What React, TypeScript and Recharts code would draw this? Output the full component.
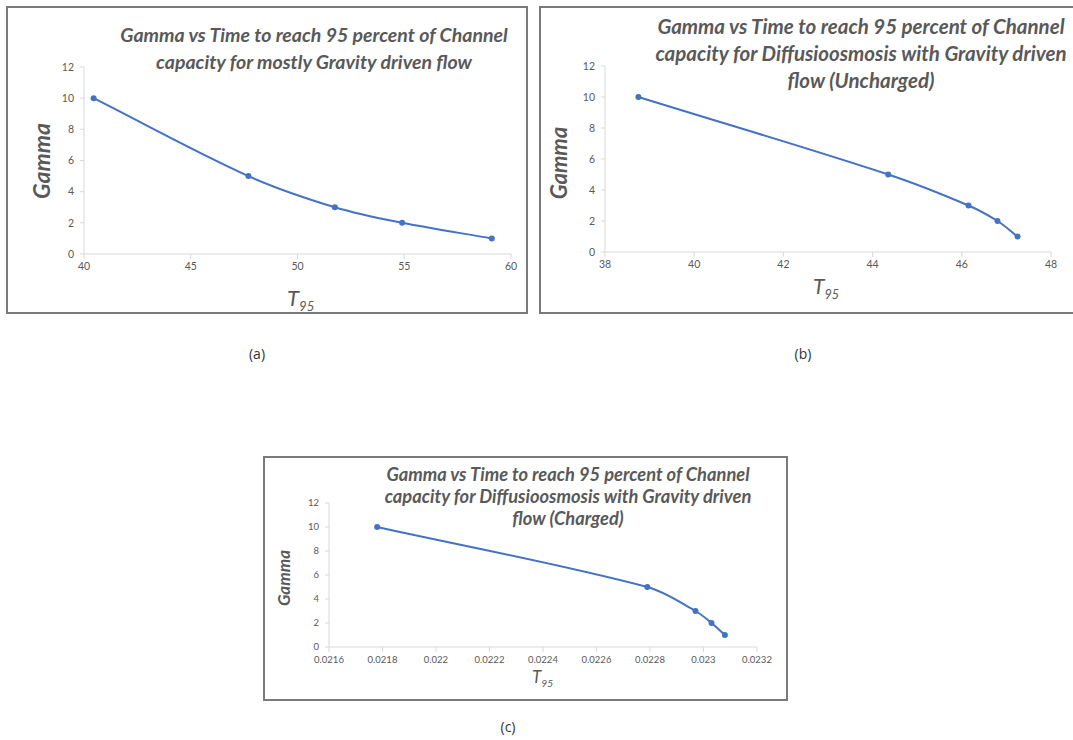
import { LineChart, XAxis, YAxis, Line } from 'recharts'
import type { CSSProperties } from 'react'

// gamma values shared by all three panels
const gammaValues = [10, 5, 3, 2, 1]
const gammaTicks = [0, 2, 4, 6, 8, 10, 12]

// (a) mostly gravity driven flow
const gravityT95 = [40.45, 47.7, 51.75, 54.9, 59.1]
const gravityTicks = [40, 45, 50, 55, 60]

// (b) diffusioosmosis, uncharged
const unchargedT95 = [38.75, 44.35, 46.15, 46.8, 47.25]
const unchargedTicks = [38, 40, 42, 44, 46, 48]

// (c) diffusioosmosis, charged
const chargedT95 = [0.02178, 0.02279, 0.02297, 0.02303, 0.02308]
const chargedTicks = [0.0216, 0.0218, 0.022, 0.0222, 0.0224, 0.0226, 0.0228, 0.023, 0.0232]

const BLUE = '#4472C4'
const AXIS = '#d9d9d9'
const TEXT = '#595959'
const FONT = 'Lato, "Open Sans", sans-serif'

// smoothed line like Excel's: cubic beziers whose tangents are scaled by the neighbouring chord lengths
const excelSmooth = (context: any) => {
  let pts: [number, number][] = []
  const dist = (a: [number, number], b: [number, number]) => Math.hypot(b[0] - a[0], b[1] - a[1])
  return {
    areaStart() {},
    areaEnd() {},
    lineStart() {
      pts = []
    },
    lineEnd() {
      if (!pts.length) return
      context.moveTo(pts[0][0], pts[0][1])
      for (let i = 0; i < pts.length - 1; i++) {
        const p0 = pts[Math.max(i - 1, 0)]
        const p1 = pts[i]
        const p2 = pts[i + 1]
        const p3 = pts[Math.min(i + 2, pts.length - 1)]
        const d01 = dist(p0, p1)
        const d12 = dist(p1, p2)
        const d23 = dist(p2, p3)
        const s1 = d12 / (d01 + d12 || 1) / 3
        const s2 = d12 / (d12 + d23 || 1) / 3
        context.bezierCurveTo(
          p1[0] + (p2[0] - p0[0]) * s1,
          p1[1] + (p2[1] - p0[1]) * s1,
          p2[0] - (p3[0] - p1[0]) * s2,
          p2[1] - (p3[1] - p1[1]) * s2,
          p2[0],
          p2[1],
        )
      }
    },
    point(x: number, y: number) {
      pts.push([+x, +y])
    },
  }
}

type PanelProps = {
  left: number
  top: number
  width: number
  height: number
  margin: { top: number; right: number; bottom: number; left: number }
  xs: number[]
  xTicks: number[]
  tickFont: number
}

const Panel = ({ left, top, width, height, margin, xs, xTicks, tickFont }: PanelProps) => {
  const data = xs.map((t, i) => ({ t, gamma: gammaValues[i] }))
  const tick = { fill: TEXT, fontSize: tickFont, fontFamily: FONT }
  return (
    <div style={{ position: 'absolute', left, top }}>
      <LineChart width={width} height={height} data={data} margin={margin}>
        <XAxis
          type="number"
          dataKey="t"
          domain={[xTicks[0], xTicks[xTicks.length - 1]]}
          ticks={xTicks}
          interval={0}
          stroke={AXIS}
          tick={tick}
          tickSize={5}
          tickMargin={4}
          height={20}
        />
        <YAxis
          type="number"
          domain={[0, 12]}
          ticks={gammaTicks}
          interval={0}
          stroke={AXIS}
          tick={tick}
          tickSize={4}
          tickMargin={6}
          width={30}
        />
        <Line
          type={excelSmooth as any}
          dataKey="gamma"
          stroke={BLUE}
          strokeWidth={2}
          dot={{ r: 3, fill: BLUE, stroke: BLUE, strokeWidth: 0 }}
          isAnimationActive={false}
        />
      </LineChart>
    </div>
  )
}

const abs = (s: CSSProperties): CSSProperties => ({ position: 'absolute', ...s })

const titleStyle = (cx: number, top: number, w: number, fs: number, lh: number): CSSProperties =>
  abs({
    left: cx - w / 2,
    top,
    width: w,
    textAlign: 'center',
    fontFamily: FONT,
    fontStyle: 'italic',
    fontWeight: 700,
    fontSize: fs,
    lineHeight: `${lh}px`,
    color: TEXT,
    whiteSpace: 'nowrap',
  })

const gammaLabel = (cx: number, cy: number, fs: number): CSSProperties =>
  abs({
    left: cx - 60,
    top: cy - 15,
    width: 120,
    height: 30,
    lineHeight: '30px',
    textAlign: 'center',
    transform: 'rotate(-90deg)',
    fontFamily: FONT,
    fontStyle: 'italic',
    fontWeight: 700,
    fontSize: fs,
    color: TEXT,
  })

const T95 = ({ x, y, fs }: { x: number; y: number; fs: number }) => (
  <div style={abs({ left: x, top: y, fontFamily: FONT, fontStyle: 'italic', fontSize: fs, color: TEXT, lineHeight: 1, whiteSpace: 'nowrap' })}>
    T<span style={{ fontSize: fs * 0.6, position: 'relative', top: fs * 0.22 }}>95</span>
  </div>
)

const caption = (cx: number, cy: number): CSSProperties =>
  abs({ left: cx - 20, top: cy - 10, width: 40, textAlign: 'center', fontFamily: '"Open Sans", sans-serif', fontSize: 14, lineHeight: '20px', color: '#333' })

const box = (left: number, top: number, width: number, height: number): CSSProperties =>
  abs({ left, top, width, height, border: '2px solid #7a7a7a', boxSizing: 'border-box' })

export default function App() {
  return (
    <div style={abs({ left: 0, top: 0, width: 1073, height: 740, overflow: 'hidden', background: '#fff' })}>
      <div style={box(6, 6, 522, 308)} />
      <div style={box(539, 6, 545, 308)} />
      <div style={box(263, 456, 525, 245)} />

      <Panel left={0} top={0} width={530} height={320} margin={{ top: 67, right: 19, bottom: 46, left: 54 }} xs={gravityT95} xTicks={gravityTicks} tickFont={10.5} />
      <Panel left={540} top={0} width={533} height={320} margin={{ top: 66, right: 22, bottom: 48, left: 35 }} xs={unchargedT95} xTicks={unchargedTicks} tickFont={10.5} />
      <Panel left={263} top={456} width={525} height={245} margin={{ top: 47, right: 31, bottom: 34, left: 36 }} xs={chargedT95} xTicks={chargedTicks} tickFont={9.5} />

      <div style={titleStyle(314, 21, 460, 19.5, 27)}>
        Gamma vs Time to reach 95 percent of Channel
        <br />
        capacity for mostly Gravity driven flow
      </div>
      <div style={titleStyle(861, 13, 500, 20.5, 27)}>
        Gamma vs Time to reach 95 percent of Channel
        <br />
        capacity for Diffusioosmosis with Gravity driven
        <br />
        flow (Uncharged)
      </div>
      <div style={titleStyle(568, 463, 500, 18.3, 22)}>
        Gamma vs Time to reach 95 percent of Channel
        <br />
        capacity for Diffusioosmosis with Gravity driven
        <br />
        flow (Charged)
      </div>

      <div style={gammaLabel(41, 161, 23)}>Gamma</div>
      <div style={gammaLabel(559, 163, 22)}>Gamma</div>
      <div style={gammaLabel(284, 578, 17)}>Gamma</div>

      <T95 x={287} y={287} fs={22} />
      <T95 x={813} y={275} fs={21} />
      <T95 x={532} y={668} fs={17} />

      <div style={caption(257, 354)}>(a)</div>
      <div style={caption(803, 354)}>(b)</div>
      <div style={caption(508, 727)}>(c)</div>
    </div>
  )
}
